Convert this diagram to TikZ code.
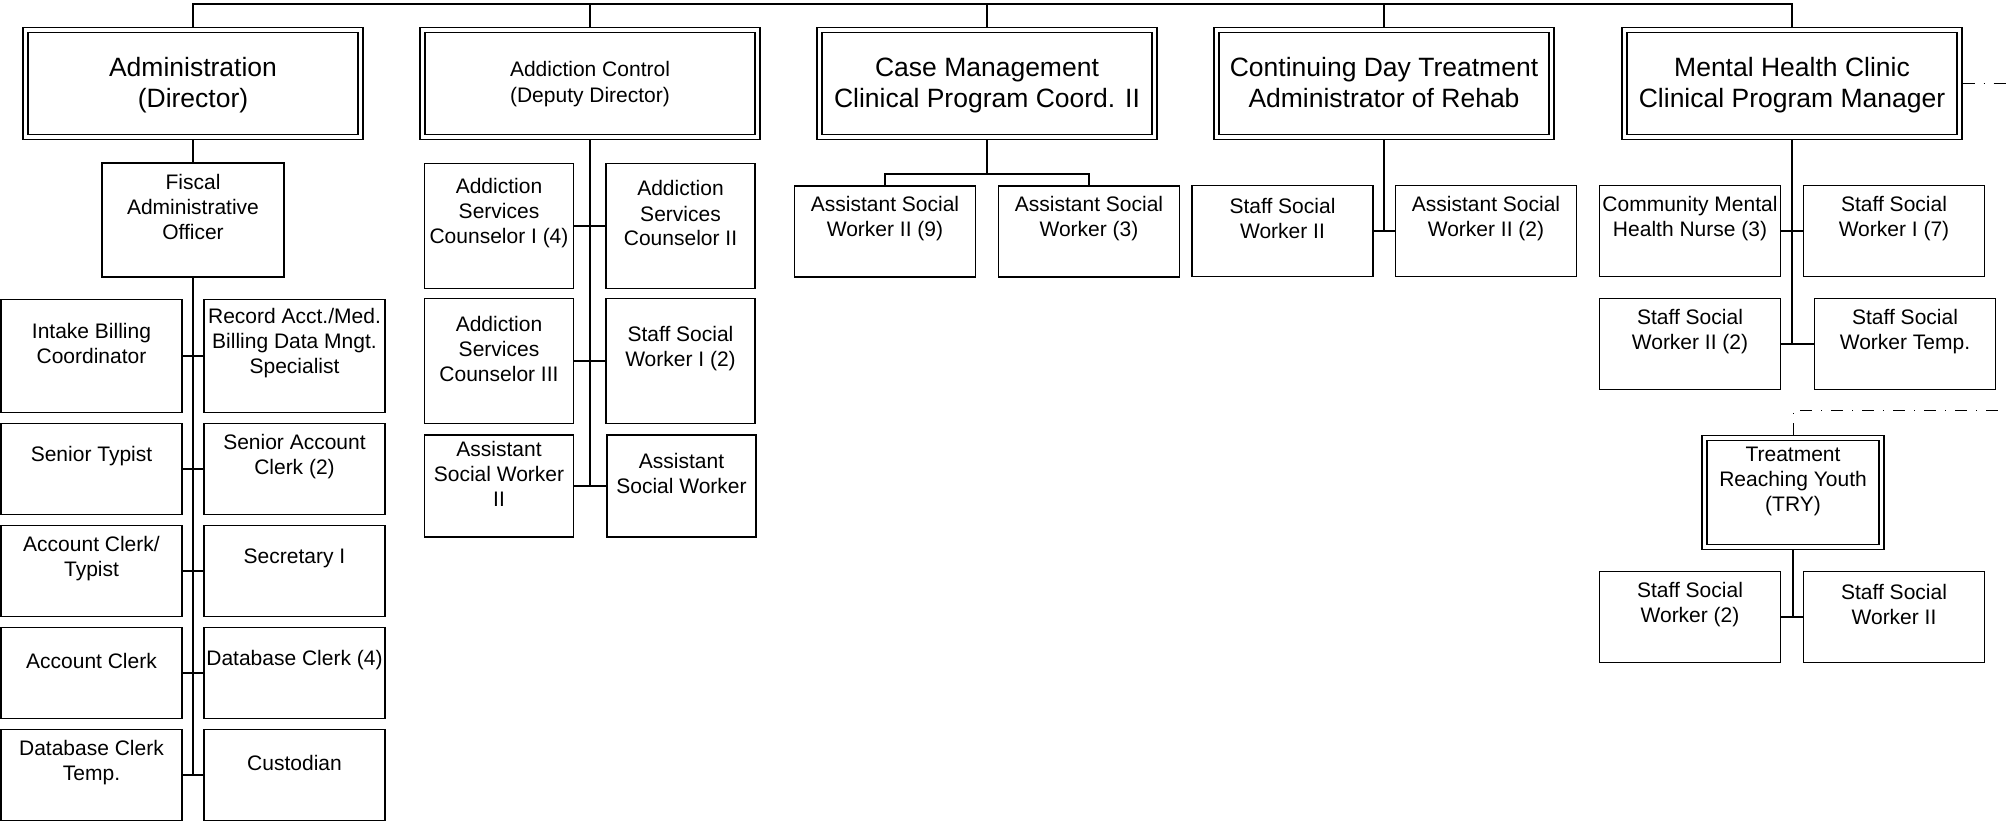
\documentclass[tikz,border=0pt]{standalone}
\usepackage{fontspec}
\setmainfont{Liberation Sans}
\usetikzlibrary{calc}
\tikzstyle{topbox}=[draw,double,double distance=1.8pt,line width=0.65pt,outer sep=1.5pt,inner sep=0pt,align=center,font=\fontsize{13.25pt}{15.5pt}\selectfont,minimum width=167.5pt,minimum height=53.5pt,text height=24.5pt,text depth=0pt]
\tikzstyle{subbox}=[topbox,font=\fontsize{10.5pt}{13pt}\selectfont,text height=19.5pt]
\tikzstyle{staffbox}=[draw,line width=0.75pt,inner sep=0pt,minimum width=90.5pt,minimum height=45.5pt]
\tikzstyle{stafftext}=[align=center,inner sep=0pt,font=\fontsize{10.5pt}{12.5pt}\selectfont,yshift=6.25pt]
\tikzstyle{link}=[draw,line width=0.75pt]
\tikzstyle{dotlink}=[draw,line width=0.5pt,dash pattern=on 6pt off 4.5pt on 0.5pt off 4.5pt]

\begin{document}
\begin{tikzpicture}[x=0.5pt,y=-0.5pt]
\useasboundingbox (0,0) rectangle (2006,822);

    % programs
    \foreach \pos/\name/\txt in {{(193,83.5)/admin/{Administration\\(Director)}}, {(987,83.5)/case/{Case Management\\Clinical Program Coord. II}}, {(1384,83.5)/cdt/{Continuing Day Treatment\\Administrator of Rehab}}, {(1792,83.5)/mhc/{Mental Health Clinic\\Clinical Program Manager}}}
        \node[topbox] (\name) at \pos {\txt};
    \node[subbox] (addc) at (590,83.5) {Addiction Control\\(Deputy Director)};
    \node[subbox,minimum width=88.5pt,minimum height=54.5pt,text height=0pt,label={[stafftext,yshift=-0.5pt]center:Treatment\\Reaching Youth\\(TRY)}] (try) at (1793,492.5) {};

    % staff
    \node[staffbox,minimum width=91pt,minimum height=57pt,label={[stafftext]center:Fiscal\\Administrative\\Officer}] (fao) at (193,220) {};
    \foreach \pos/\name/\hgt/\txt in {{(91.5,356)/ib/56.5pt/{Intake Billing\\Coordinator}}, {(294.5,356)/ra/56.5pt/{Record Acct./Med.\\Billing Data Mngt.\\Specialist}},
        {(91.5,469)/st/45.5pt/{Senior Typist}}, {(294.5,469)/sac/45.5pt/{Senior Account\\Clerk (2)}},
        {(91.5,571)/act/45.5pt/{Account Clerk/\\Typist}}, {(294.5,571)/sec/45.5pt/{Secretary I}},
        {(91.5,673)/ac/45.5pt/{Account Clerk}}, {(294.5,673)/dbc/45.5pt/{Database Clerk (4)}},
        {(91.5,775)/dbt/45.5pt/{Database Clerk\\Temp.}}, {(294.5,775)/cus/45.5pt/{Custodian}}}
        \node[staffbox,minimum height=\hgt,label={[stafftext]center:\txt}] (\name) at \pos {};

    \foreach \pos/\name/\hgt/\txt in {{(499,226)/asc1/62.5pt/{Addiction\\Services\\Counselor I (4)}}, {(680.5,226)/asc2/62.5pt/{Addiction\\Services\\Counselor II}},
        {(499,361)/asc3/62.5pt/{Addiction\\Services\\Counselor III}}, {(680.5,361)/ssw12/62.5pt/{Staff Social\\Worker I (2)}},
        {(499,486)/asw2/51pt/{Assistant\\Social Worker\\II}}, {(681.5,486)/asw/51pt/{Assistant\\Social Worker}}}
        \node[staffbox,minimum width=74.5pt,minimum height=\hgt,label={[stafftext]center:\txt}] (\name) at \pos {};

    \foreach \pos/\name/\txt in {{(885,231.5)/asw9/{Assistant Social\\Worker II (9)}}, {(1089,231.5)/asw3/{Assistant Social\\Worker (3)}},
        {(1282.5,231)/ssw2/{Staff Social\\Worker II}}, {(1486,231)/asw22/{Assistant Social\\Worker II (2)}},
        {(1690,231)/cmhn/{Community Mental\\Health Nurse (3)}}, {(1894,231)/ssw7/{Staff Social\\Worker I (7)}},
        {(1690,344)/ssw22/{Staff Social\\Worker II (2)}}, {(1905,344)/sswt/{Staff Social\\Worker Temp.}},
        {(1690,617)/sswa/{Staff Social\\Worker (2)}}, {(1894,617)/sswb/{Staff Social\\Worker II}}}
        \node[staffbox,label={[stafftext]center:\txt}] (\name) at \pos {};

    % Connect boxes
    \coordinate (bus) at (987,4);
    \draw[link] (admin.north) |- (bus) -| (mhc.north);
    \foreach \name in {addc, case, cdt}
        \draw[link] (\name.north) -- (\name.north |- bus);

    \draw[link] (admin) -- (fao);
    \draw[link] (fao.south) -- (fao.south |- dbt.east);
    \draw[link] (addc.south) -- (addc.south |- asw2.east);
    \draw[link] (case.south) -- ++(0,34) -| (asw9.north);
    \draw[link] (case.south) ++(0,34) -| (asw3.north);
    \draw[link] (cdt.south) -- (cdt.south |- ssw2.east);
    \draw[link] (mhc.south) -- (mhc.south |- ssw22.east);
    \draw[link] (try.south) -- (try.south |- sswa.east);

    \foreach \source/\dest in {ib/ra, st/sac, act/sec, ac/dbc, dbt/cus, asc1/asc2, asc3/ssw12, asw2/asw, ssw2/asw22, cmhn/ssw7, ssw22/sswt, sswa/sswb}
        \path[link] (\source.east) -- (\dest.west);

    \coordinate (mhout) at (2006,83.5);
    \coordinate (tryin) at (2006,411);
    \draw[dotlink] (mhc.east) -- (mhout);
    \draw[dotlink] (try.north) |- (tryin);

\end{tikzpicture}
\end{document}
